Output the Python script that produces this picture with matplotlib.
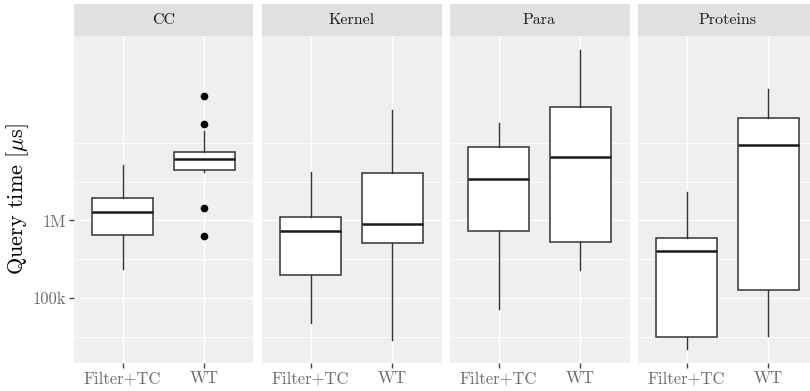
import matplotlib
matplotlib.use("Agg")
import matplotlib.pyplot as plt
from matplotlib.ticker import FixedLocator, NullFormatter

plt.rcParams['font.family'] = ['cmr10', 'DejaVu Serif']
plt.rcParams['mathtext.fontset'] = 'cm'
plt.rcParams['axes.formatter.use_mathtext'] = True

# ---- data (query time in microseconds) ----
datasets = ["CC", "Kernel", "Para", "Proteins"]
methods = ["Filter+TC", "WT"]

whislo = {"CC": [233000, 4.25e6], "Kernel": [46700, 29000],
          "Para": [70800, 228000], "Proteins": [21900, 32300]}
q1 = {"CC": [646000, 4.51e6], "Kernel": [194500, 514000],
      "Para": [735000, 525000], "Proteins": [31700, 128000]}
med = {"CC": [1.27e6, 6.14e6], "Kernel": [735000, 904000],
       "Para": [3.42e6, 6.52e6], "Proteins": [398000, 9.31e6]}
q3 = {"CC": [1.94e6, 7.55e6], "Kernel": [1.09e6, 4.05e6],
      "Para": [8.93e6, 2.88e7], "Proteins": [596000, 2.08e7]}
whishi = {"CC": [5.18e6, 1.44e7], "Kernel": [4.25e6, 2.66e7],
          "Para": [1.82e7, 1.58e8], "Proteins": [2.30e6, 4.97e7]}
fliers = {"CC": [[], [4.04e7, 1.77e7, 1.46e6, 6.27e5]], "Kernel": [[], []],
          "Para": [[], []], "Proteins": [[], []]}

y_breaks = [1e5, 1e6]
y_labels = ["100k", "1M"]
y_minor = [10**4.5, 10**5.5, 10**6.5, 1e7]
y_lim = (14300, 2.40e8)

# ---- layout ----
W, H = 810, 391
fig = plt.figure(figsize=(W / 100, H / 100), dpi=100)
panel_w = 180
gap = 8
left0 = 73.5
p_top, p_bot = 36, 363.3
s_top = 4

panel_bg = "#EFEFEF"
strip_bg = "#E0E0E0"
tick_col = "#6B6B6B"

for i, ds in enumerate(datasets):
    x0 = left0 + i * (panel_w + gap)
    ax = fig.add_axes([x0 / W, (H - p_bot) / H, panel_w / W, (p_bot - p_top) / H])
    ax.set_facecolor(panel_bg)
    for s in ax.spines.values():
        s.set_visible(False)
    stats = []
    for j, m in enumerate(methods):
        stats.append(dict(label=m, med=med[ds][j], q1=q1[ds][j], q3=q3[ds][j],
                          whislo=whislo[ds][j], whishi=whishi[ds][j],
                          fliers=fliers[ds][j]))
    ax.bxp(stats, positions=[1, 2], widths=0.75, patch_artist=True,
           showcaps=False,
           boxprops=dict(facecolor="white", edgecolor="#333333", linewidth=1.1),
           medianprops=dict(color="#1a1a1a", linewidth=1.8),
           whiskerprops=dict(color="#333333", linewidth=1.0),
           flierprops=dict(marker="o", markerfacecolor="black",
                           markeredgecolor="black", markersize=4.5),
           zorder=3)
    ax.set_yscale("log")
    ax.set_ylim(*y_lim)
    ax.set_xlim(0.4, 2.6)
    ax.yaxis.set_major_locator(FixedLocator(y_breaks))
    ax.yaxis.set_minor_locator(FixedLocator(y_minor))
    ax.yaxis.set_minor_formatter(NullFormatter())
    ax.set_yticklabels(y_labels)
    ax.set_xticks([1, 2])
    ax.set_xticklabels(methods)
    ax.grid(True, which="major", color="white", linewidth=1.0, zorder=0)
    ax.grid(True, which="minor", axis="y", color="white", linewidth=0.6, zorder=0)
    ax.set_axisbelow(True)
    ax.tick_params(axis="both", which="major", length=3.5, width=1.0,
                   color="#444444", labelcolor=tick_col, labelsize=12, pad=2)
    ax.tick_params(axis="y", which="minor", length=0)
    if i > 0:
        ax.tick_params(axis="y", which="major", length=0, labelleft=False)
    else:
        ax.set_ylabel(r"Query time [$\mu$s]", fontsize=16, labelpad=1)

    sax = fig.add_axes([x0 / W, (H - p_top) / H, panel_w / W, (p_top - s_top) / H])
    sax.set_facecolor(strip_bg)
    for s in sax.spines.values():
        s.set_visible(False)
    sax.set_xticks([])
    sax.set_yticks([])
    sax.text(0.5, 0.5, ds, ha="center", va="center", fontsize=11.5,
             color="#1A1A1A", transform=sax.transAxes)

fig.savefig("out.png", dpi=100)
